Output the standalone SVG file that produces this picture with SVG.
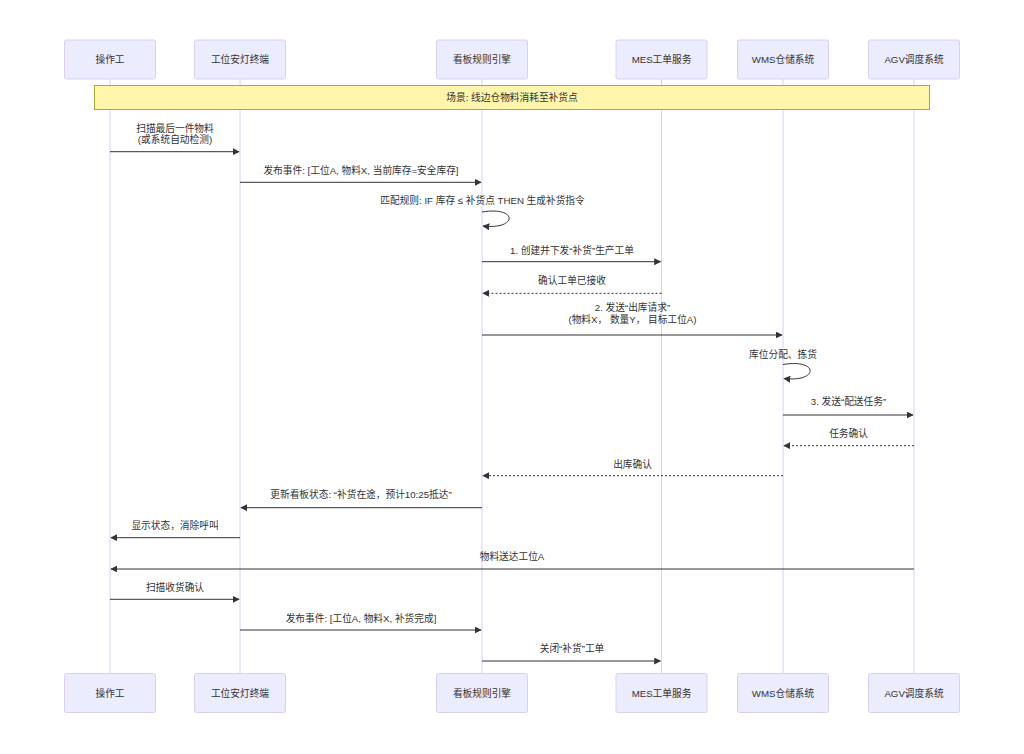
<svg xmlns="http://www.w3.org/2000/svg" width="1024" height="754" viewBox="0 0 1024 754">
<style>
  .actor { fill: #ECECFF; stroke: #dacef3; stroke-width: 1; }
  .alabel { font-family: "Liberation Sans", "Noto Sans CJK SC", sans-serif; font-size: 9.7px; fill: #333; text-anchor: middle; dominant-baseline: central; }
  .life { stroke: #dacef3; stroke-width: 1; }
  .msg { stroke: #333; stroke-width: 1; fill: none; }
  .dash { stroke-dasharray: 2 2; }
  .mtext { font-family: "Liberation Sans", "Noto Sans CJK SC", sans-serif; font-size: 9.7px; fill: #333; text-anchor: middle; dominant-baseline: central; }
  .note { fill: #fff5ad; stroke: #aaaa33; stroke-width: 1; }
</style>
<defs>
  <marker id="arrow" viewBox="0 0 10 10" refX="9" refY="5" markerWidth="7" markerHeight="7" markerUnits="userSpaceOnUse" orient="auto">
    <path d="M0,0 L10,5 L0,10 z" fill="#333"/>
  </marker>
</defs>
<rect width="1024" height="754" fill="#ffffff"/>

<g id="lifelines">
  <line class="life" x1="110" y1="79" x2="110" y2="673"/>
  <line class="life" x1="240" y1="79" x2="240" y2="673"/>
  <line class="life" x1="482" y1="79" x2="482" y2="673"/>
  <line class="life" x1="661.5" y1="79" x2="661.5" y2="673"/>
  <line class="life" x1="783" y1="79" x2="783" y2="673"/>
  <line class="life" x1="914" y1="79" x2="914" y2="673"/>
</g>

<g id="actor-operator">
  <rect class="actor" x="64.5" y="40" width="91" height="39" rx="2"/>
  <text class="alabel" x="110" y="59.5">操作工</text>
  <rect class="actor" x="64.5" y="673.5" width="91" height="39" rx="2"/>
  <text class="alabel" x="110" y="693">操作工</text>
</g>
<g id="actor-andon">
  <rect class="actor" x="194.5" y="40" width="91" height="39" rx="2"/>
  <text class="alabel" x="240" y="59.5">工位安灯终端</text>
  <rect class="actor" x="194.5" y="673.5" width="91" height="39" rx="2"/>
  <text class="alabel" x="240" y="693">工位安灯终端</text>
</g>
<g id="actor-kanban">
  <rect class="actor" x="436.5" y="40" width="91" height="39" rx="2"/>
  <text class="alabel" x="482" y="59.5">看板规则引擎</text>
  <rect class="actor" x="436.5" y="673.5" width="91" height="39" rx="2"/>
  <text class="alabel" x="482" y="693">看板规则引擎</text>
</g>
<g id="actor-mes">
  <rect class="actor" x="616" y="40" width="91" height="39" rx="2"/>
  <text class="alabel" x="661.5" y="59.5">MES工单服务</text>
  <rect class="actor" x="616" y="673.5" width="91" height="39" rx="2"/>
  <text class="alabel" x="661.5" y="693">MES工单服务</text>
</g>
<g id="actor-wms">
  <rect class="actor" x="737.5" y="40" width="91" height="39" rx="2"/>
  <text class="alabel" x="783" y="59.5">WMS仓储系统</text>
  <rect class="actor" x="737.5" y="673.5" width="91" height="39" rx="2"/>
  <text class="alabel" x="783" y="693">WMS仓储系统</text>
</g>
<g id="actor-agv">
  <rect class="actor" x="868.5" y="40" width="91" height="39" rx="2"/>
  <text class="alabel" x="914" y="59.5">AGV调度系统</text>
  <rect class="actor" x="868.5" y="673.5" width="91" height="39" rx="2"/>
  <text class="alabel" x="914" y="693">AGV调度系统</text>
</g>

<g id="note-scene">
  <rect class="note" x="94.5" y="85.5" width="835" height="24"/>
  <text class="mtext" x="512" y="97.5">场景: 线边仓物料消耗至补货点</text>
</g>

<g id="connectors">
  <path class="msg" d="M110,151.7 L239,151.7" marker-end="url(#arrow)"/>
  <path class="msg" d="M240,182.3 L481,182.3" marker-end="url(#arrow)"/>
  <path class="msg" d="M482,212 C518,206 518,230 483,226" marker-end="url(#arrow)"/>
  <path class="msg" d="M482,261.7 L660.5,261.7" marker-end="url(#arrow)"/>
  <path class="msg dash" d="M661.5,293.3 L483,293.3" marker-end="url(#arrow)"/>
  <path class="msg" d="M482,335 L782,335" marker-end="url(#arrow)"/>
  <path class="msg" d="M783,364.5 C819,358.5 819,382.5 784,378.5" marker-end="url(#arrow)"/>
  <path class="msg" d="M783,415 L913,415" marker-end="url(#arrow)"/>
  <path class="msg dash" d="M914,445.7 L784,445.7" marker-end="url(#arrow)"/>
  <path class="msg dash" d="M783,475.7 L483,475.7" marker-end="url(#arrow)"/>
  <path class="msg" d="M482,507.7 L241,507.7" marker-end="url(#arrow)"/>
  <path class="msg" d="M240,537.7 L111,537.7" marker-end="url(#arrow)"/>
  <path class="msg" d="M914,569 L111,569" marker-end="url(#arrow)"/>
  <path class="msg" d="M110,599.3 L239,599.3" marker-end="url(#arrow)"/>
  <path class="msg" d="M240,630 L481,630" marker-end="url(#arrow)"/>
  <path class="msg" d="M482,661 L660.5,661" marker-end="url(#arrow)"/>
</g>

<g id="message-labels">
  <text class="mtext" x="175" y="128.3">扫描最后一件物料</text>
  <text class="mtext" x="175" y="139.5">(或系统自动检测)</text>
  <text class="mtext" x="361" y="170">发布事件: [工位A, 物料X, 当前库存=安全库存]</text>
  <text class="mtext" x="482.5" y="200.7">匹配规则: IF 库存 ≤ 补货点 THEN 生成补货指令</text>
  <text class="mtext" x="572" y="250">1. 创建并下发“补货”生产工单</text>
  <text class="mtext" x="572" y="280.7">确认工单已接收</text>
  <text class="mtext" x="632.5" y="307.7">2. 发送“出库请求”</text>
  <text class="mtext" x="632.5" y="319.3">(物料X， 数量Y， 目标工位A)</text>
  <text class="mtext" x="783" y="354">库位分配、拣货</text>
  <text class="mtext" x="848.5" y="401.7">3. 发送“配送任务”</text>
  <text class="mtext" x="848.5" y="433.3">任务确认</text>
  <text class="mtext" x="632.5" y="464">出库确认</text>
  <text class="mtext" x="361" y="494">更新看板状态: “补货在途，预计10:25抵达”</text>
  <text class="mtext" x="175" y="525.7">显示状态，消除呼叫</text>
  <text class="mtext" x="512" y="556">物料送达工位A</text>
  <text class="mtext" x="175" y="587.3">扫描收货确认</text>
  <text class="mtext" x="361" y="618.3">发布事件: [工位A, 物料X, 补货完成]</text>
  <text class="mtext" x="572" y="648.3">关闭“补货”工单</text>
</g>
</svg>
